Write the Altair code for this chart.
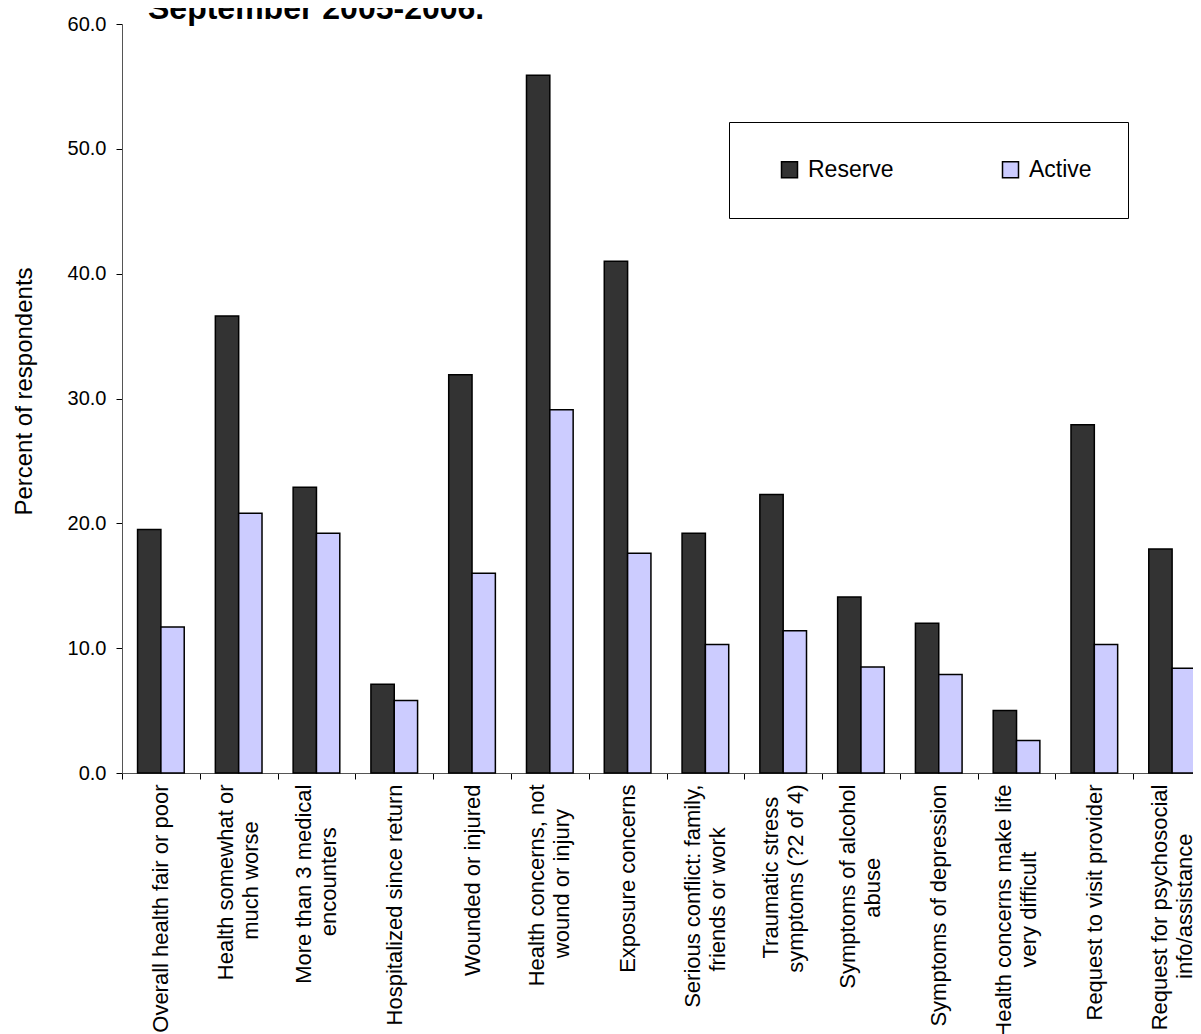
import altair as alt
import pandas as pd

categories = [
    "Overall health fair or poor",
    "Health somewhat or\nmuch worse",
    "More than 3 medical\nencounters",
    "Hospitalized since return",
    "Wounded or injured",
    "Health concerns, not\nwound or injury",
    "Exposure concerns",
    "Serious conflict: family,\nfriends or work",
    "Traumatic stress\nsymptoms (?2 of 4)",
    "Symptoms of alcohol\nabuse",
    "Symptoms of depression",
    "Health concerns make life\nvery difficult",
    "Request to visit provider",
    "Request for psychosocial\ninfo/assistance",
]
reserve = [19.5, 36.6, 22.9, 7.1, 31.9, 55.9, 41.0, 19.2, 22.3, 14.1, 12.0, 5.0, 27.9, 17.95]
active = [11.7, 20.8, 19.2, 5.8, 16.0, 29.1, 17.6, 10.3, 11.4, 8.5, 7.9, 2.6, 10.3, 8.4]
series = ["Reserve", "Active"]
colors = ["#333333", "#CCCCFF"]
y_ticks = [0, 10, 20, 30, 40, 50, 60]

# Approximate Arial / Liberation Sans advance widths (per 1000 em),
# used only to centre the shorter line of two-line axis labels.
_W = {" ": 278, "\u00a0": 278, "(": 333, ")": 333, ",": 278, "-": 333, ".": 278,
      "/": 278, ":": 278, "?": 556}
_W.update({d: 556 for d in "0123456789"})
_W.update(dict(zip("ABCDEFGHIJKLMNOPQRSTUVWXYZ",
                   [667, 667, 722, 722, 667, 611, 778, 722, 278, 500, 667, 556, 833,
                    722, 778, 667, 778, 722, 667, 611, 722, 667, 944, 667, 667, 611])))
_W.update(dict(zip("abcdefghijklmnopqrstuvwxyz",
                   [556, 556, 500, 556, 556, 278, 556, 556, 222, 222, 500, 222, 833,
                    556, 556, 556, 556, 333, 500, 278, 556, 500, 722, 500, 500, 500])))


def _width(s):
    return sum(_W.get(ch, 556) for ch in s)


def centre_lines(label):
    lines = label.split("\n")
    if len(lines) < 2:
        return label
    widest = max(_width(l) for l in lines)
    out = []
    for l in lines:
        n = int(round((widest - _width(l)) / 2 / 278))
        # trailing no-break spaces (kept alive by a zero-width space) push the
        # shorter line away from the axis so that it sits centred
        out.append(l + ("\u00a0" * n + "\u200b" if n > 0 else ""))
    return "\n".join(out)


axis_labels = [centre_lines(c) for c in categories]

rows = []
for lab, r, a in zip(axis_labels, reserve, active):
    rows.append({"category": lab, "group": "Reserve", "value": r})
    rows.append({"category": lab, "group": "Active", "value": a})
df = pd.DataFrame(rows)

FONT = "Liberation Sans"
PLOT_W = 1089
PLOT_H = 749

bars = alt.Chart(df).mark_bar(stroke="black", strokeWidth=1.5).encode(
    x=alt.X(
        "category:N",
        sort=axis_labels,
        scale=alt.Scale(paddingInner=0, paddingOuter=0),
        axis=alt.Axis(
            title=None,
            labelAngle=-90,
            labelExpr="split(datum.label, '\\n')",
            labelFontSize=22,
            labelLineHeight=25,
            labelPadding=5,
            labelLimit=400,
            labelFont=FONT,
            labelColor="black",
            labelOffset={
                "condition": {
                    "test": "isString(datum.value) && indexof(datum.value, '\\n') >= 0",
                    "value": -13,
                },
                "value": 0,
            },
            tickBand="extent",
            tickSize=6,
            tickColor="black",
            domainColor="#555555",
            labelOverlap=False,
        ),
    ),
    xOffset=alt.XOffset(
        "group:N",
        sort=series,
        scale=alt.Scale(paddingInner=0, paddingOuter=0.667),
    ),
    y=alt.Y(
        "value:Q",
        scale=alt.Scale(domain=[0, 60], nice=False),
        axis=alt.Axis(
            title="Percent of respondents",
            titleFont=FONT,
            titleFontSize=24,
            titleFontWeight="normal",
            titleColor="black",
            titlePadding=31,
            titleY=367,
            values=y_ticks,
            format=".1f",
            labelFont=FONT,
            labelFontSize=20,
            labelColor="black",
            labelPadding=10,
            tickSize=6,
            tickColor="black",
            domainColor="#555555",
            grid=False,
        ),
    ),
    color=alt.Color(
        "group:N",
        sort=series,
        scale=alt.Scale(domain=series, range=colors),
        legend=alt.Legend(
            title=None,
            orient="none",
            legendX=607,
            legendY=98,
            direction="horizontal",
            strokeColor="black",
            fillColor="white",
            padding=36,
            symbolType="square",
            symbolSize=256,
            symbolStrokeColor="black",
            symbolStrokeWidth=1.5,
            symbolOpacity=1,
            symbolOffset=13,
            labelFont=FONT,
            labelFontSize=23,
            labelColor="black",
            labelOffset=7,
            columnPadding=92,
        ),
    ),
)

chart = bars.properties(
    width=PLOT_W,
    height=PLOT_H,
    title=alt.TitleParams(
        "September 2005-2006.",
        anchor="start",
        frame="group",
        font=FONT,
        fontSize=32,
        fontWeight="bold",
        color="black",
        offset=-12,
        dx=26,
    ),
    autosize=alt.AutoSizeParams(type="none"),
    padding={"left": 114, "top": 16, "right": -18, "bottom": 261},
).configure_view(stroke=None)

chart.save("out.html", embed_options={"renderer": "svg", "actions": False})
